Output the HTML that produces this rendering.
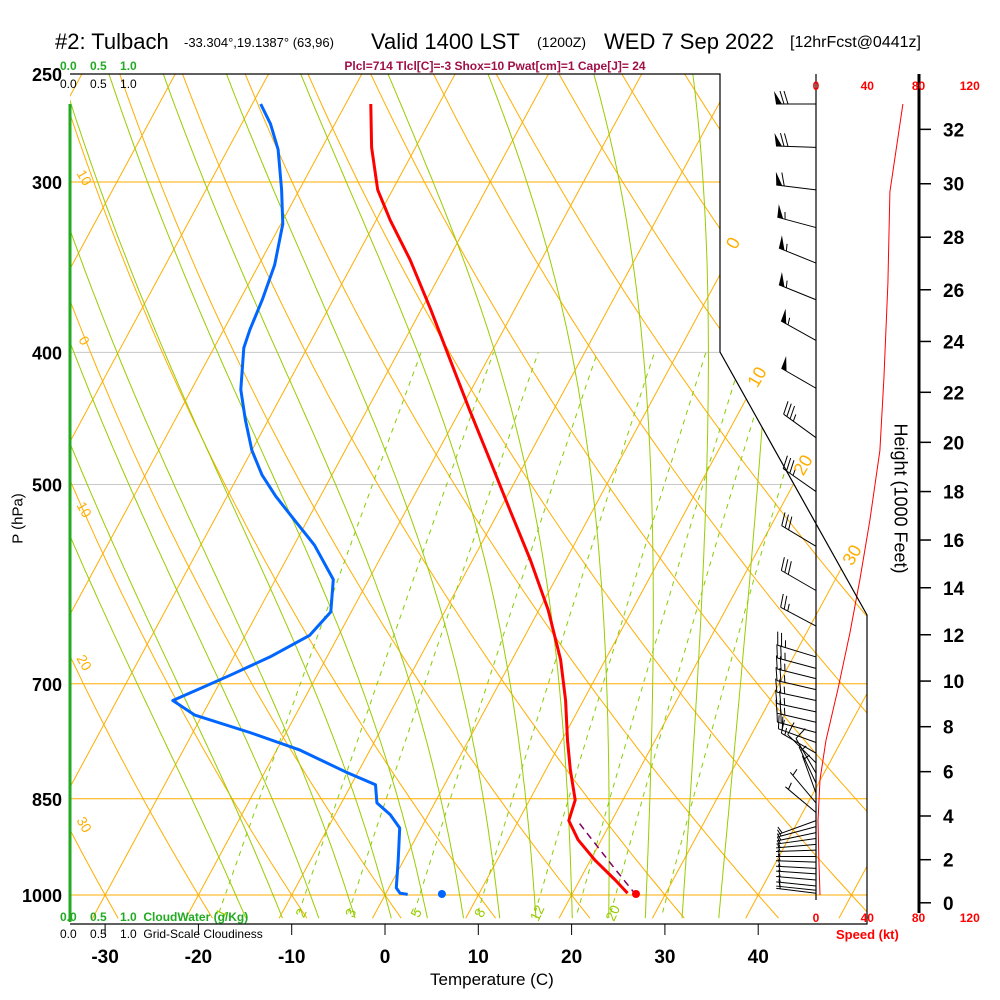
<!DOCTYPE html>
<html><head><meta charset="utf-8">
<style>
html,body{margin:0;padding:0;background:#fff;}
svg{display:block;font-family:"Liberation Sans",sans-serif;}
</style></head>
<body>
<svg id="chart" width="1000" height="1000" viewBox="0 0 1000 1000" xmlns="http://www.w3.org/2000/svg">
<defs><clipPath id="plotclip"><polygon points="70,74 720,74 720,352 867,615 867,924 70,924"/></clipPath></defs>
<g id="title">
<text x="55" y="49" font-size="22">#2: Tulbach</text>
<text x="184" y="47" font-size="13">-33.304°,19.1387° (63,96)</text>
<text x="371" y="49" font-size="22">Valid 1400 LST</text>
<text x="537" y="47" font-size="14">(1200Z)</text>
<text x="604" y="49" font-size="22">WED 7 Sep 2022</text>
<text x="790" y="47" font-size="16">[12hrFcst@0441z]</text>
</g>
<text x="495" y="70" font-size="12" font-weight="bold" fill="#a01048" text-anchor="middle">Plcl=714 Tlcl[C]=-3 Shox=10 Pwat[cm]=1 Cape[J]= 24</text>
<g id="grid" clip-path="url(#plotclip)"></g>
<g id="marks"></g>
<g id="axes"></g>
</svg>
<script>
// ---- data ----
const tempP = [263,283,304,320,342,372,405,441,480,522,568,618,672,720,770,809,852,882,911,943,975,997];
const tempC = [-47.3,-44.7,-41.6,-38.5,-34.1,-29.0,-24.0,-19.0,-13.9,-8.9,-3.8,1.0,5.2,8.1,10.6,12.6,14.9,15.4,17.5,20.5,23.8,25.9];
const dewP = [263,272,284,304,322,345,366,385,397,426,448,472,492,510,531,554,587,620,645,669,690,706,720,738,760,783,812,830,856,873,893,943,988,997,999];
const dewC = [-59.1,-56.9,-54.6,-51.9,-49.8,-48.3,-47.6,-47.2,-46.8,-44.7,-42.5,-40.0,-37.5,-34.8,-31.4,-27.8,-23.8,-22.2,-23.1,-26.1,-29.3,-31.8,-34.0,-30.8,-23.9,-17.5,-11.4,-7.4,-6.2,-4.1,-2.3,-0.6,0.8,1.5,2.4];
const sfcTemp = 26.9, sfcDew = 6.1;
const speedP = [263,305,356,418,472,531,587,642,706,770,823,882,943,1000];
const speedKt = [67.8,57.7,56.1,53,49.9,42.1,34.3,26.5,17.2,7.8,3.1,1.6,2.3,3.1];
const barbP = [263,283,304,324,344,366,392,425,462,506,555,598,635,669,682,694,707,720,734,747,760,773,787,800,814,828,842,856,870,882,891,900,909,918,927,937,946,956,965,975,985,992,997];
const barbDir = [270,272,277,285,292,292,299,300,306,305,301,300,298,287,285,284,283,282,282,283,285,290,300,315,330,335,340,320,310,250,255,258,262,265,268,270,272,273,274,275,276,276,277];
const barbSpd = [70,70,60,55,55,55,55,50,35,35,30,30,25,25,25,25,25,25,25,25,20,20,15,10,8,6,5,5,5,5,5,5,5,5,5,5,5,5,5,5,5,5,5];
const tempTicks = [-30,-20,-10,0,10,20,30,40];
const presLabels = [250,300,400,500,700,850,1000];
const heightTicks = [0,2,4,6,8,10,12,14,16,18,20,22,24,26,28,30,32];
const speedTicks = [0,40,80,120];
const mixRatios = [1,2,3,5,8,12,16,20,28];
const mixLabels = [1,2,3,5,8,12,20];
const dryThetas = [-80,-70,-60,-50,-40,-30,-20,-10,0,10,20,30,40,50,60,70,80,90,100,110,120,130,140];
const moistT = [-16,-12,-8,-4,0,4,8,12,16,20,24,28,32,36];
const isotherms = [-130,-120,-110,-100,-90,-80,-70,-60,-50,-40,-30,-20,-10,0,10,20,30,40,50,60];

// ---- axis functions ----
const NS='http://www.w3.org/2000/svg';
const Y0=74, YH=821, PX=9.33, X0=385, SK=0.54;
function yP(p){return Y0+YH*Math.log(p/250)/Math.log(4);}
function xT(t,p){return X0+PX*t+SK*(895-yP(p));}
function xS(s){return 816+s*51.25/40;}
function el(tag,attrs,parent){const e=document.createElementNS(NS,tag);for(const k in attrs)e.setAttribute(k,attrs[k]);parent.appendChild(e);return e;}
function path(pts){return pts.map((q,i)=>(i?'L':'M')+q[0].toFixed(1)+','+q[1].toFixed(1)).join('');}
const grid=document.getElementById('grid'),marks=document.getElementById('marks'),axes=document.getElementById('axes');
const ORG='#ffae00',GRN='#99cc00';

[[300,ORG],[400,'#c8c8c8'],[500,'#c8c8c8'],[700,ORG],[850,ORG],[1000,ORG]].forEach(([p,c])=>{
 const l=el('line',{x1:70,x2:867,y1:yP(p),y2:yP(p),stroke:c,'stroke-width':1},grid);
 
 
});
isotherms.forEach(t=>{
 const l=el('line',{x1:xT(t,1040),y1:yP(1040),x2:xT(t,240),y2:yP(240),stroke:ORG,'stroke-width':1},grid);
 
 
});
dryThetas.forEach(th=>{
 const pts=[];for(let p=1040;p>=240;p-=10){const T=(th+273.15)*Math.pow(p/1000,0.286)-273.15;pts.push([xT(T,p),yP(p)]);}
 const l=el('path',{d:path(pts),stroke:ORG,'stroke-width':1,fill:'none'},grid);
 
 
});
function es(tc){return 6.112*Math.exp(17.67*tc/(tc+243.5));}
function moistPts(t0){
 const Rd=287,Cp=1004,Lv=2.5e6,eps=0.622;
 function dTdp(T,p){const e=es(T-273.15);const rs=eps*e/(p-e);return (Rd*T+Lv*rs)/(p*(Cp+Lv*Lv*rs*eps/(Rd*T*T)));}
 const up=[];let T=t0+273.15;for(let p=1000;p>=240;p-=5){up.push([xT(T-273.15,p),yP(p)]);T-=dTdp(T,p)*5;}
 T=t0+273.15;const dn=[];for(let p=1000;p<=1040;p+=5){dn.unshift([xT(T-273.15,p),yP(p)]);T+=dTdp(T,p)*5;}
 return dn.concat(up);
}
moistT.forEach(t=>{
 const l=el('path',{d:path(moistPts(t)),stroke:GRN,'stroke-width':1,fill:'none'},grid);
 
 
});
function tdW(w,p){const e=w*p/(622+w);const a=Math.log(e/6.112);return 243.5*a/(17.67-a);}
mixRatios.forEach(w=>{
 const pts=[];for(let p=1030;p>=400;p-=10)pts.push([xT(tdW(w,p),p),yP(p)]);
 const l=el('path',{d:path(pts),stroke:'#88cc00','stroke-width':1,fill:'none','stroke-dasharray':'5,5'},grid);
 
 
});
mixLabels.forEach(w=>{
 const x=xT(tdW(w,1028),1028)+6,y=915;
 const t=el('text',{x:x,y:y,'font-size':14,fill:GRN,'text-anchor':'middle',transform:`rotate(-65 ${x} ${y})`},grid);
 t.textContent=w;
 
 
});
[[-10,180],[0,343],[10,512],[20,665],[30,827]].forEach(([v,y])=>{
 const t=el('text',{x:80,y:y,'font-size':14,fill:ORG,'text-anchor':'middle',transform:`rotate(60 80 ${y})`},axes);
 t.textContent=v===-10?'10':v;
 
 
});
[[0,733,243],[10,757,377],[20,803,465],[30,852,555]].forEach(([v,x,y])=>{
 const t=el('text',{x:x,y:y+6,'font-size':18,fill:ORG,'text-anchor':'middle',transform:`rotate(-60 ${x} ${y})`},axes);
 t.textContent=v;
 
 
});

const f=el('path',{d:'M70,74L720,74L720,352L867,615L867,924L70,924',stroke:'#000',fill:'none','stroke-width':1.2},axes);


const gl=el('line',{x1:70,x2:70,y1:104,y2:922,stroke:'#22aa22','stroke-width':3},axes);


const sa=el('line',{x1:816,x2:816,y1:74,y2:900,stroke:'#000','stroke-width':1.2},axes);


const ha=el('line',{x1:919,x2:919,y1:74,y2:913,stroke:'#000','stroke-width':3},axes);



tempTicks.forEach(t=>{
 const x=xT(t,1000);
 const k=el('line',{x1:x,x2:x,y1:924,y2:935,stroke:'#000'},axes);
 
 
 const l=el('text',{x:x,y:963,'font-size':19,'font-weight':'bold','text-anchor':'middle'},axes);
 l.textContent=t;
 
 
});
presLabels.forEach(p=>{
 const l=el('text',{x:62,y:yP(p)+7,'font-size':18,'font-weight':'bold','text-anchor':'end'},axes);
 l.textContent=p;
 
 
});
function pH(kft){return 1013.25*Math.pow(1-2.25577e-5*kft*304.8,5.25588);}
heightTicks.forEach(h=>{
 const y=yP(pH(h));
 const k=el('line',{x1:919,x2:931,y1:y,y2:y,stroke:'#000','stroke-width':1.5},axes);
 
 
 const l=el('text',{x:943,y:y+7,'font-size':19,'font-weight':'bold'},axes);
 l.textContent=h;
 
 
});
speedTicks.forEach(s=>{
 [90,922].forEach(y=>{
  const l=el('text',{x:xS(s),y:y,'font-size':12,'font-weight':'bold',fill:'#ff0000','text-anchor':'middle'},axes);
  l.textContent=s;
  
  
 });
});

const spPts=speedP.map((p,i)=>[xS(speedKt[i]),yP(p)]);
const spl=el('path',{d:path(spPts),stroke:'#ff0000',fill:'none','stroke-width':1},marks);



const pp=[];for(let p=1000;p>=886;p-=2){pp.push([xT((sfcTemp+273.15)*Math.pow(p/1000,0.286)-273.15,p),yP(p)]);}
const parcel=el('path',{d:path(pp),stroke:'#800060',fill:'none','stroke-width':1.5,'stroke-dasharray':'7,5'},marks);



const tl=el('path',{d:path(tempP.map((p,i)=>[xT(tempC[i],p),yP(p)])),stroke:'#ff0000',fill:'none','stroke-width':3,'stroke-linejoin':'round'},marks);


const dl=el('path',{d:path(dewP.map((p,i)=>[xT(dewC[i],p),yP(p)])),stroke:'#0066ff',fill:'none','stroke-width':3,'stroke-linejoin':'round'},marks);


const rd=el('circle',{cx:xT(sfcTemp,1000),cy:yP(1000)-1,r:4,fill:'#ff0000'},marks);


const bd=el('circle',{cx:xT(sfcDew,1000),cy:yP(1000)-1,r:4,fill:'#0066ff'},marks);



barbP.forEach((p,i)=>{
 const d=barbDir[i]*Math.PI/180;
 const ux=Math.sin(d),uy=-Math.cos(d),fx=-uy,fy=ux;
 const bx=816,by=yP(p),L=40;
 const tx=bx+ux*L,ty=by+uy*L;
 const g=el('g',{},marks);
 
 
 el('line',{x1:bx,y1:by,x2:tx,y2:ty,stroke:'#000','stroke-width':1},g);
 let s=Math.round(barbSpd[i]/5)*5,pos=0;
 while(s>=50){const ax=tx-ux*pos,ay=ty-uy*pos;
  el('polygon',{points:`${ax},${ay} ${ax+fx*13+ux*2},${ay+fy*13+uy*2} ${ax-ux*6},${ay-uy*6}`,fill:'#000'},g);pos+=7;s-=50;}
 if(pos)pos+=1;
 while(s>=10){const ax=tx-ux*pos,ay=ty-uy*pos;el('line',{x1:ax,y1:ay,x2:ax+fx*13+ux*4,y2:ay+fy*13+uy*4,stroke:'#000'},g);pos+=4;s-=10;}
 if(s>=5){if(pos===0)pos=4;const ax=tx-ux*pos,ay=ty-uy*pos;el('line',{x1:ax,y1:ay,x2:ax+fx*7+ux*2,y2:ay+fy*7+uy*2,stroke:'#000'},g);}
});
</script>
<div style="position:absolute;left:0;top:0;width:1000px;height:1000px;pointer-events:none;font-family:'Liberation Sans',sans-serif;">
<div style="position:absolute;left:60px;top:59px;font-size:12px;font-weight:bold;color:#22aa22;white-space:pre;">0.0    0.5    1.0</div>
<div style="position:absolute;left:60px;top:77px;font-size:12px;color:#000;white-space:pre;">0.0    0.5    1.0</div>
<div style="position:absolute;left:60px;top:910px;font-size:12px;font-weight:bold;color:#22aa22;white-space:pre;">0.0    0.5    1.0  CloudWater (g/Kg)</div>
<div style="position:absolute;left:60px;top:927px;font-size:12px;color:#000;white-space:pre;">0.0    0.5    1.0  Grid-Scale Cloudiness</div>
<div style="position:absolute;left:430px;top:970px;font-size:17px;">Temperature (C)</div>
<div style="position:absolute;left:836px;top:927px;font-size:13px;font-weight:bold;color:#f00;">Speed (kt)</div>
<div style="position:absolute;left:-22px;top:510px;font-size:15px;transform:rotate(-90deg);width:80px;text-align:center;">P (hPa)</div>
<div style="position:absolute;left:820px;top:488px;font-size:18px;transform:rotate(90deg);width:160px;text-align:center;">Height (1000 Feet)</div>
</div>
</body></html>
